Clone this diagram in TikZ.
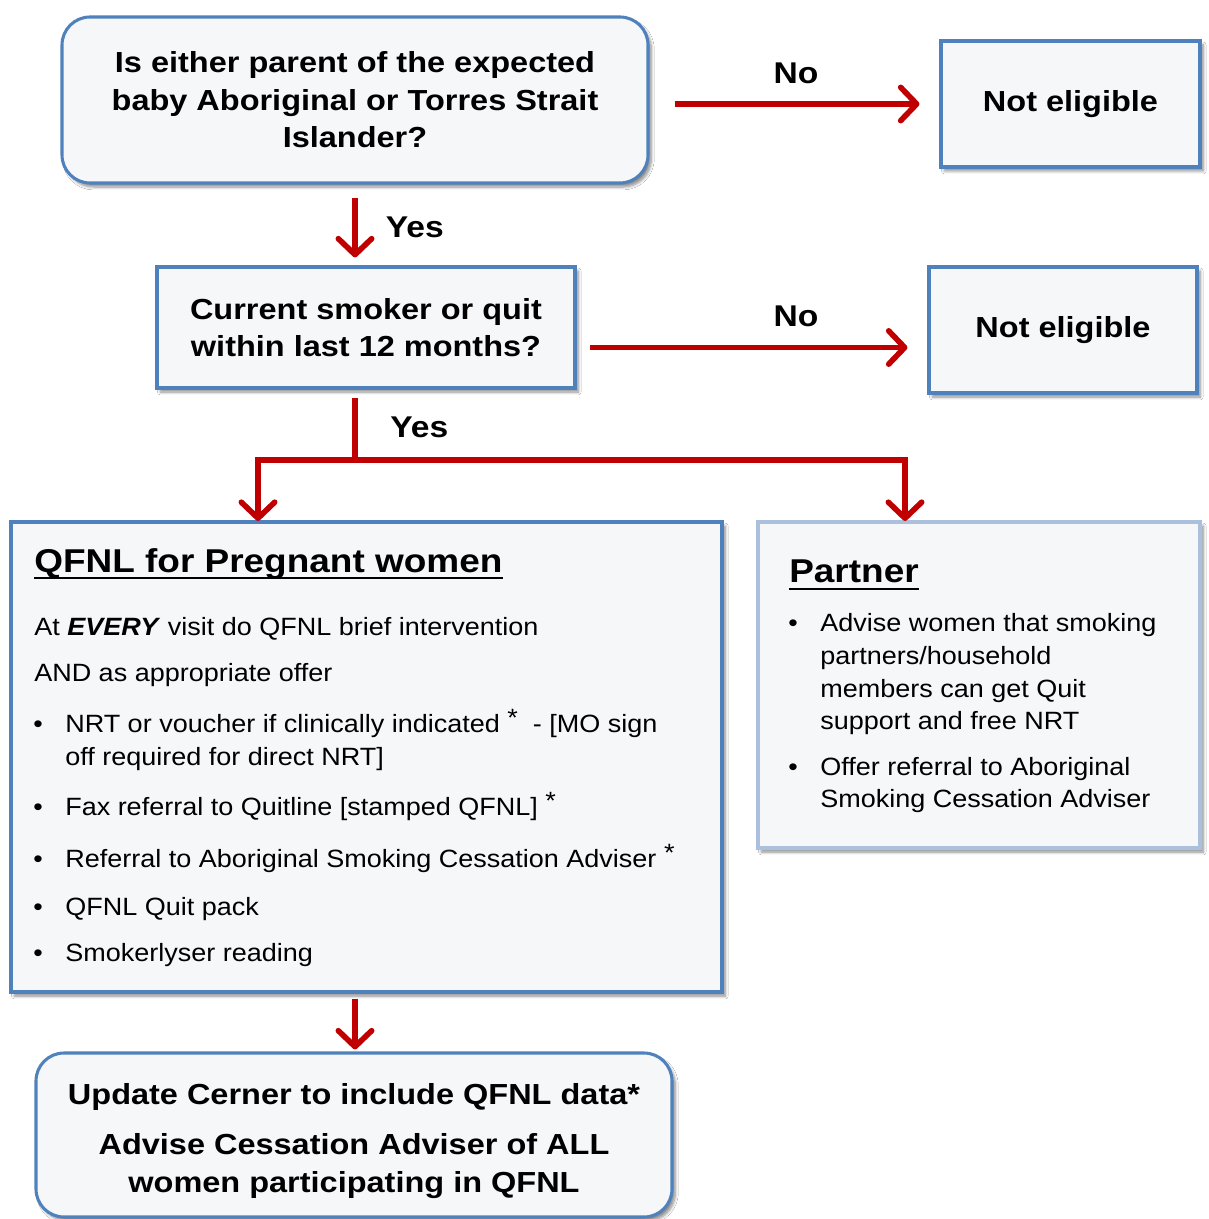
\documentclass[tikz,border=0pt]{standalone}
\usepackage{fontspec}
\setmainfont{Liberation Sans}
\newfontfamily\bigf[FakeStretch=1.12]{Liberation Sans}
\newfontfamily\bodyf[FakeStretch=1.08]{Liberation Sans}
\usetikzlibrary{arrows.meta,calc,shadows.blur}
\definecolor{bord}{RGB}{79,129,189}
\definecolor{bordlt}{RGB}{170,192,221}
\definecolor{boxfill}{RGB}{246,247,249}
\definecolor{arrred}{RGB}{192,0,0}
\begin{document}
\begin{tikzpicture}[x=0.75pt,y=-0.75pt,
  box/.style={draw=bord, line width=2.3pt, fill=boxfill,
    blur shadow={shadow xshift=2.5pt, shadow yshift=-3pt, shadow blur steps=6, shadow opacity=45},
    inner sep=0pt},
  rbox/.style={box, rounded corners=21pt},
  bigtxt/.style={font=\bigf\bfseries\fontsize{21.75}{28.2}\selectfont, align=center},
  lbl/.style={font=\bigf\bfseries\fontsize{22.5}{26}\selectfont, inner sep=0pt},
  titletxt/.style={font=\bigf\bfseries\fontsize{24.75}{30}\selectfont, inner sep=0pt, anchor=base west},
  bodyt/.style={font=\bodyf\fontsize{18.75}{24}\selectfont, inner sep=0pt, anchor=base west},
  bult/.style={font=\bodyf\fontsize{18.75}{24}\selectfont, inner sep=0pt, anchor=base},
  arr/.style={draw=arrred, line width=4.2pt, -{Straight Barb[length=12pt,width=25pt,round]}},
  arrline/.style={draw=arrred, line width=4.2pt},
  uline/.style={line width=2pt}
]
\useasboundingbox[fill=white] (0,0) rectangle (1208,1219);

% boxes
\node[rbox, minimum width={586*0.75}, minimum height={166*0.75}, bigtxt] (q1) at (355,100)
  {Is either parent of the expected\\baby Aboriginal or Torres Strait\\Islander?};
\node[box, minimum width={259*0.75}, minimum height={126*0.75}, bigtxt] (ne1) at (1070.5,104) {Not eligible};
\node[box, minimum width={418*0.75}, minimum height={121*0.75}, bigtxt] (q2) at (366,327.5)
  {Current smoker or quit\\within last 12 months?};
\node[box, minimum width={268*0.75}, minimum height={126*0.75}, bigtxt] (ne2) at (1063,330) {Not eligible};
\node[box, minimum width={711*0.75}, minimum height={470*0.75}] (qf) at (366.5,757) {};
\node[box, draw=bordlt, minimum width={442*0.75}, minimum height={326*0.75}] (pt) at (979,685) {};
\node[rbox, minimum width={636*0.75}, minimum height={164*0.75}] (fin) at (354,1135) {};
\node[bigtxt, inner sep=0pt] (fint) at (354,1141)
  {Update Cerner to include QFNL data*\\[9.5pt]Advise Cessation Adviser of ALL\\women participating in QFNL};

% connectors
\draw[arr] ($(q1.east|-ne1.west)+(25,0)$) -- ($(ne1.west)+(-20,0)$);
\node[lbl] (no1) at (796,73) {No};
\draw[arr] ($(q1.south)+(0,13)$) -- ($(q1.south|-q2.north)+(0,-8)$)
  node[lbl, midway, anchor=west, xshift=21pt] (yes1) {Yes};
\draw[arr] ($(q2.east)+(13,20)$) -- ($(ne2.west|-q2.east)+(-20,20)$);
\node[lbl] (no2) at (796,316) {No};
\coordinate (split) at (355,460);
\coordinate (bl) at (258,521);
\coordinate (br) at (905,521);
\draw[arrline] ($(split|-q2.south)+(0,8)$) -- (split);
\node[lbl, anchor=west] (yes2) at (390,427) {Yes};
\draw[arr, line join=miter] (split) -| (bl);
\draw[arr, line join=miter] (split) -| (br);
\draw[arr] ($(q1.south|-qf.south)+(0,5)$) -- ($(q1.south|-fin.north)+(0,-2)$);

% QFNL box content
\node[titletxt] (tq) at (34,572) {QFNL for Pregnant women};
\draw[uline] ($(tq.base west)+(0,6)$) -- ($(tq.base east)+(0,6)$);
\node[bodyt] (l1) at (34,635) {At \textbf{\textit{EVERY}} visit do QFNL brief intervention};
\node[bodyt] (l2) at (34,681) {AND as appropriate offer};
\node[bult] (b1) at (38,732) {\textbullet};
\node[bodyt] (i1) at (65,732) {NRT or voucher if clinically indicated \raisebox{4pt}{*}\ \ - [MO sign};
\node[bodyt] (i1b) at (65,765) {off required for direct NRT]};
\node[bult] (b2) at (38,815) {\textbullet};
\node[bodyt] (i2) at (65,815) {Fax referral to Quitline [stamped QFNL] \raisebox{4pt}{*}};
\node[bult] (b3) at (38,867) {\textbullet};
\node[bodyt] (i3) at (65,867) {Referral to Aboriginal Smoking Cessation Adviser \raisebox{4pt}{*}};
\node[bult] (b4) at (38,915) {\textbullet};
\node[bodyt] (i4) at (65,915) {QFNL Quit pack};
\node[bult] (b5) at (38,961) {\textbullet};
\node[bodyt] (i5) at (65,961) {Smokerlyser reading};

% Partner box content
\node[titletxt] (tp) at (789,582) {Partner};
\draw[uline] ($(tp.base west)+(0,7)$) -- ($(tp.base east)+(0,7)$);
\node[bult] (pb1) at (793,631) {\textbullet};
\node[bodyt] (p1) at (820,631) {Advise women that smoking};
\node[bodyt] (p2) at (820,664) {partners/household};
\node[bodyt] (p3) at (820,697) {members can get Quit};
\node[bodyt] (p4) at (820,729) {support and free NRT};
\node[bult] (pb2) at (793,775) {\textbullet};
\node[bodyt] (p5) at (820,775) {Offer referral to Aboriginal};
\node[bodyt] (p6) at (820,807) {Smoking Cessation Adviser};
\end{tikzpicture}
\end{document}
